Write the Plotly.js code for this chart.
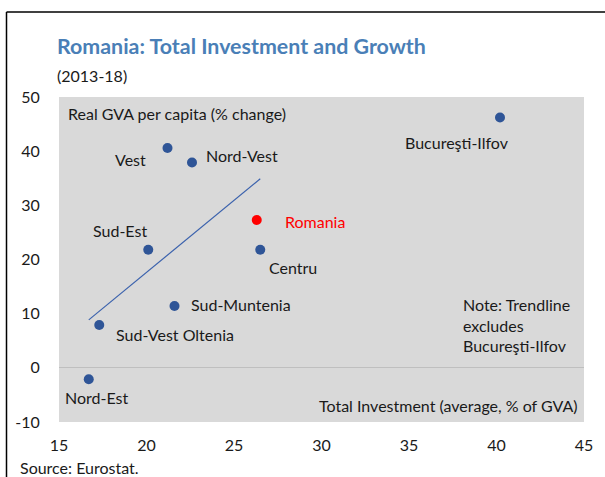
<!DOCTYPE html>
<html>
<head>
<meta charset="utf-8">
<script src="https://cdn.plot.ly/plotly-3.0.1.min.js"></script>
<style>html,body{margin:0;padding:0;background:#fff;} #chart{width:605px;height:477px;}</style>
</head>
<body>
<div id="chart"></div>
<script>
// ---- data ----
const regions = ["Vest", "Nord-Vest", "Sud-Est", "Centru", "Sud-Muntenia", "Sud-Vest Oltenia", "Nord-Est", "Bucureşti-Ilfov"];
const investment = [21.2, 22.6, 20.1, 26.5, 21.6, 17.3, 16.7, 40.2];
const gvaGrowth = [40.6, 37.9, 21.8, 21.8, 11.4, 7.9, -2.1, 46.2];
const inTrend = [true, true, true, true, true, true, true, false];
const nationalLabel = ["Romania"];
const nationalInvestment = [26.3];
const nationalGrowth = [27.3];
const xTicks = [15, 20, 25, 30, 35, 40, 45];
const yTicks = [-10, 0, 10, 20, 30, 40, 50];

// ---- label offsets (pixels, dx right, dy down) ----
const labelOffsets = {
  "Vest": [-37, 12],
  "Nord-Vest": [50, -7],
  "Sud-Est": [-28, -19],
  "Centru": [33, 18],
  "Sud-Muntenia": [66, -2],
  "Sud-Vest Oltenia": [76, 9],
  "Nord-Est": [8, 18],
  "Bucureşti-Ilfov": [-43, 25],
  "Romania": [58, 2]
};

// ---- trendline: least squares on regions flagged inTrend ----
const tx = [], ty = [];
investment.forEach((v, i) => { if (inTrend[i]) { tx.push(v); ty.push(gvaGrowth[i]); } });
const mx = tx.reduce((a, b) => a + b, 0) / tx.length;
const my = ty.reduce((a, b) => a + b, 0) / ty.length;
let sxy = 0, sxx = 0;
tx.forEach((v, i) => { sxy += (v - mx) * (ty[i] - my); sxx += (v - mx) * (v - mx); });
const slope = sxy / sxx, icpt = my - slope * mx;
const xMin = Math.min(...tx), xMax = Math.max(...tx);
const trendX = [xMin, xMax];
const trendY = trendX.map(v => icpt + slope * v);

const FONT = "Lato, 'Open Sans', sans-serif";
const TXT = "#1a1a1a";
const FS = 16;

const traces = [
  { x: trendX, y: trendY, mode: "lines", line: { color: "#3b62ad", width: 1.2 }, hoverinfo: "skip" },
  { x: investment, y: gvaGrowth, mode: "markers", text: regions,
    marker: { color: "#2f5597", size: 10 } },
  { x: nationalInvestment, y: nationalGrowth, mode: "markers", text: nationalLabel,
    marker: { color: "#ff0000", size: 10 } }
];

const annotations = [];
regions.forEach((r, i) => {
  const o = labelOffsets[r];
  annotations.push({ x: investment[i], y: gvaGrowth[i], xref: "x", yref: "y", text: r, showarrow: false,
    xanchor: "center", yanchor: "middle", xshift: o[0], yshift: -o[1], font: { family: FONT, size: FS, color: TXT } });
});
nationalLabel.forEach((r, i) => {
  const o = labelOffsets[r];
  annotations.push({ x: nationalInvestment[i], y: nationalGrowth[i], xref: "x", yref: "y", text: r, showarrow: false,
    xanchor: "center", yanchor: "middle", xshift: o[0], yshift: -o[1], font: { family: FONT, size: FS, color: "#ff0000" } });
});

const px = v => (v - 59) / 525, py = v => (422 - v) / 325;
annotations.push(
  { xref: "paper", yref: "paper", x: px(55), y: py(46), xanchor: "left", yanchor: "middle", showarrow: false,
    text: "<b>Romania: Total Investment and Growth</b>", font: { family: FONT, size: 21.4, color: "#4a7fb7" } },
  { xref: "paper", yref: "paper", x: px(55), y: py(75), xanchor: "left", yanchor: "middle", showarrow: false,
    text: "(2013-18)", font: { family: FONT, size: 16, color: TXT } },
  { xref: "paper", yref: "paper", x: px(66), y: py(114), xanchor: "left", yanchor: "middle", showarrow: false,
    text: "Real GVA per capita (% change)", font: { family: FONT, size: FS, color: TXT } },
  { xref: "paper", yref: "paper", x: px(580), y: py(405.7), xanchor: "right", yanchor: "middle", showarrow: false,
    text: "Total Investment (average, % of GVA)", font: { family: FONT, size: FS, color: TXT } },
  { xref: "paper", yref: "paper", x: px(461), y: py(304), xanchor: "left", yanchor: "middle", showarrow: false,
    text: "Note: Trendline", font: { family: FONT, size: FS, color: TXT } },
  { xref: "paper", yref: "paper", x: px(461), y: py(325), xanchor: "left", yanchor: "middle", showarrow: false,
    text: "excludes", font: { family: FONT, size: FS, color: TXT } },
  { xref: "paper", yref: "paper", x: px(461), y: py(345.7), xanchor: "left", yanchor: "middle", showarrow: false,
    text: "Bucureşti-Ilfov", font: { family: FONT, size: FS, color: TXT } },
  { xref: "paper", yref: "paper", x: px(18), y: py(467.5), xanchor: "left", yanchor: "middle", showarrow: false,
    text: "Source: Eurostat.", font: { family: FONT, size: FS, color: TXT } }
);

const layout = {
  width: 605, height: 477,
  margin: { l: 59, r: 21, t: 97, b: 55, pad: 0 },
  paper_bgcolor: "#ffffff", plot_bgcolor: "#d9d9d9",
  showlegend: false,
  xaxis: { range: [15, 45], tickvals: xTicks, ticktext: xTicks.map(String), showgrid: false, zeroline: false,
    showline: false, ticks: "outside", ticklen: 0, ticklabelstandoff: 9,
    tickfont: { family: FONT, size: 16, color: TXT }, fixedrange: true },
  yaxis: { range: [-10, 50], tickvals: yTicks, ticktext: yTicks.map(String), showgrid: false, zeroline: true,
    zerolinecolor: "#bfbfbf", zerolinewidth: 1, showline: false, ticks: "outside", ticklen: 0, ticklabelstandoff: 15,
    tickfont: { family: FONT, size: 16, color: TXT }, fixedrange: true },
  annotations: annotations,
  shapes: [
    { type: "line", xref: "paper", yref: "paper", x0: px(6.5), x1: px(6.5), y0: py(12), y1: py(480), line: { color: "#000", width: 1.5 } },
    { type: "line", xref: "paper", yref: "paper", x0: px(6.5), x1: px(610), y0: py(12), y1: py(12), line: { color: "#000", width: 1.5 } }
  ]
};

Plotly.newPlot("chart", traces, layout, { displayModeBar: false, staticPlot: true });
</script>
</body>
</html>
